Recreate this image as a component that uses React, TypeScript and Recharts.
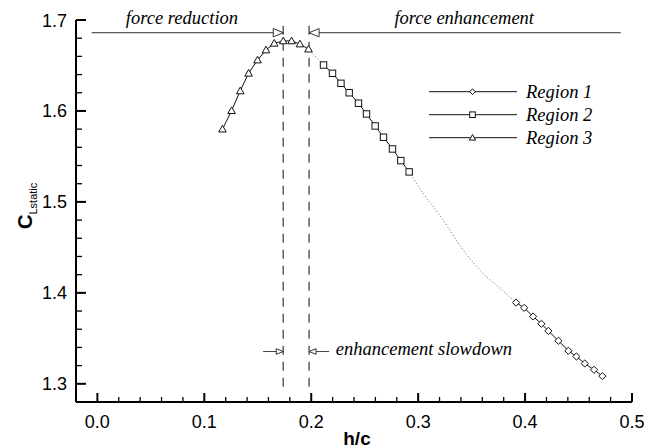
import React from 'react';
import {
  ComposedChart,
  Scatter,
  XAxis,
  YAxis,
  ReferenceLine,
  ReferenceDot,
  Legend,
} from 'recharts';

// ---------------- data ----------------
const region3X = [0.117, 0.1255, 0.1336, 0.1414, 0.1498, 0.1577, 0.1654, 0.1738, 0.1816, 0.1894, 0.1975];
const region3Y = [1.58, 1.6003, 1.622, 1.6414, 1.656, 1.667, 1.6744, 1.677, 1.677, 1.6736, 1.668];

const region2X = [0.2115, 0.2199, 0.2278, 0.2355, 0.2442, 0.2517, 0.2598, 0.2676, 0.276, 0.2838, 0.2916];
const region2Y = [1.6505, 1.6414, 1.6304, 1.62, 1.6085, 1.5967, 1.5835, 1.5711, 1.5582, 1.5454, 1.533];

const region1X = [0.3916, 0.3991, 0.4075, 0.4153, 0.4218, 0.4312, 0.4405, 0.448, 0.4558, 0.4645, 0.4723];
const region1Y = [1.3893, 1.3835, 1.374, 1.366, 1.3582, 1.3473, 1.3363, 1.33, 1.3223, 1.3154, 1.3085];

// dotted fitted curve in the gaps between the regions
const gap32X = [0.1975, 0.2115];
const gap32Y = [1.668, 1.6505];
const gap21X = [0.2916, 0.3046, 0.3233, 0.342, 0.3638, 0.3763, 0.3916];
const gap21Y = [1.533, 1.5096, 1.4802, 1.4473, 1.4179, 1.4052, 1.3893];

const seriesNames = ['Region 1', 'Region 2', 'Region 3'];

const xDomain = [-0.02, 0.5];
const yDomain = [1.28, 1.7];
const xTicks = [-0.02, 0, 0.02, 0.04, 0.06, 0.08, 0.1, 0.12, 0.14, 0.16, 0.18, 0.2, 0.22, 0.24, 0.26, 0.28, 0.3, 0.32, 0.34, 0.36, 0.38, 0.4, 0.42, 0.44, 0.46, 0.48, 0.5];
const xMajorTicks = [0, 0.1, 0.2, 0.3, 0.4, 0.5];
const xMajorLabels = ['0.0', '0.1', '0.2', '0.3', '0.4', '0.5'];
const yTicks = [1.28, 1.3, 1.32, 1.34, 1.36, 1.38, 1.4, 1.42, 1.44, 1.46, 1.48, 1.5, 1.52, 1.54, 1.56, 1.58, 1.6, 1.62, 1.64, 1.66, 1.68, 1.7];
const yMajorTicks = [1.3, 1.4, 1.5, 1.6, 1.7];
const yMajorLabels = ['1.3', '1.4', '1.5', '1.6', '1.7'];

// annotation anchors (data coordinates)
const boundaryX = [0.1738, 0.198];
const annotations = {
  reductionText: { x: 0.0791, y: 1.6958, text: 'force reduction' },
  enhancementText: { x: 0.3431, y: 1.6958, text: 'force enhancement' },
  slowdownText: { x: 0.223, y: 1.3315, text: 'enhancement slowdown' },
  arrowY: 1.686,
  reductionStart: -0.0053,
  enhancementStart: 0.4895,
  slowY: 1.3355,
  slowLeftStart: 0.155,
  slowRightStart: 0.2168,
  dashBottom: 1.2967,
};

const zip = (xs: number[], ys: number[]) => xs.map((x, i) => ({ x, y: ys[i] }));
const region1 = zip(region1X, region1Y);
const region2 = zip(region2X, region2Y);
const region3 = zip(region3X, region3Y);
const gap32 = zip(gap32X, gap32Y);
const gap21 = zip(gap21X, gap21Y);

// ---------------- styling ----------------
const SANS = '"Liberation Sans", Arial, Helvetica, sans-serif';
const SERIF = '"Liberation Serif", "Times New Roman", Times, serif';
const INK = '#000';

const majorIndex = (v: number, majors: number[]) => majors.findIndex((m) => Math.abs(m - v) < 1e-9);

const XTickLabel = (props: any) => {
  const { x, y, payload } = props;
  const idx = majorIndex(payload.value, xMajorTicks);
  if (idx < 0) return <g />;
  return (
    <text x={Number(x)} y={Number(y) + 26} textAnchor="middle" fontFamily={SANS} fontSize={18} fill={INK}>
      {xMajorLabels[idx]}
    </text>
  );
};

const YTickLabel = (props: any) => {
  const { x, y, payload } = props;
  const idx = majorIndex(payload.value, yMajorTicks);
  if (idx < 0) return <g />;
  return (
    <text x={Number(x) - 9} y={Number(y) + 6.5} textAnchor="end" fontFamily={SANS} fontSize={18} fill={INK}>
      {yMajorLabels[idx]}
    </text>
  );
};

// inward tick marks, positioned through the chart scales
const XTickMark = ({ cx, cy, major }: any) => (
  <path d={`M${cx},${cy}L${cx},${cy - (major ? 9 : 5)}`} stroke={INK} strokeWidth={major ? 2 : 1.3} fill="none" />
);
const YTickMark = ({ cx, cy, major }: any) => (
  <path d={`M${cx},${cy}L${cx + (major ? 10 : 6)},${cy}`} stroke={INK} strokeWidth={major ? 2 : 1.3} fill="none" />
);

const Diamond = ({ cx, cy, s = 3.6 }: any) => (
  <path d={`M${cx},${cy - s}L${cx + s},${cy}L${cx},${cy + s}L${cx - s},${cy}Z`} fill="#fff" stroke="#111" strokeWidth={1} />
);
const Square = ({ cx, cy, s = 3.2 }: any) => (
  <rect x={cx - s} y={cy - s} width={2 * s} height={2 * s} fill="#fff" stroke="#111" strokeWidth={1} />
);
const Triangle = ({ cx, cy, s = 3.8 }: any) => (
  <path d={`M${cx},${cy - s}L${cx + s},${cy + s * 0.75}L${cx - s},${cy + s * 0.75}Z`} fill="#fff" stroke="#111" strokeWidth={1} />
);

const markerFor = [Diamond, Square, Triangle];

const LegendBox = () => (
  <svg width={200} height={72} style={{ display: 'block', overflow: 'visible' }}>
    {seriesNames.map((name, i) => {
      const y = 11.7 + i * 23;
      const M = markerFor[i];
      return (
        <g key={name}>
          <line x1={0} x2={88} y1={y} y2={y} stroke="#111" strokeWidth={1} />
          <M cx={43.5} cy={y} s={i === 2 ? 3.2 : 2.8} />
          <text x={97} y={y + 5.8} fontFamily={SERIF} fontStyle="italic" fontSize={18.5} fill={INK}>
            {name}
          </text>
        </g>
      );
    })}
  </svg>
);

const ArrowHead = ({ cx, cy, dir, len, half }: any) => {
  const bx = cx - dir * len;
  return <path d={`M${cx},${cy}L${bx},${cy - half}L${bx},${cy + half}Z`} fill="#fff" stroke="#333" strokeWidth={1} />;
};

const AnnoText = ({ cx, cy, text, anchor }: any) => (
  <text x={cx} y={cy} textAnchor={anchor} fontFamily={SERIF} fontStyle="italic" fontSize={18.5} fill={INK}>
    {text}
  </text>
);

const YLabel = () => (
  <g transform="translate(23.5, 221) rotate(-90)">
    <text x={0} y={0} fontFamily={SANS} fill={INK}>
      <tspan fontSize={20} fontWeight="bold">C</tspan>
      <tspan fontSize={11} dy={5}>Lstatic</tspan>
    </text>
  </g>
);

const XLabel = (props: any) => {
  const vb = props.viewBox || { x: 68, y: 394, width: 556 };
  return (
    <text x={vb.x + vb.width / 2 + 3} y={vb.y + 43} textAnchor="middle" fontFamily={SANS} fontWeight="bold" fontSize={19} fill={INK}>
      h/c
    </text>
  );
};

export default function App() {
  const a = annotations;
  return (
    <div style={{ position: 'absolute', left: 8, top: 8, width: 638, height: 440 }}>
      <ComposedChart width={638} height={440} margin={{ top: 12, right: 14, bottom: 0, left: 0 }}>
        <XAxis
          type="number"
          dataKey="x"
          domain={xDomain}
          ticks={xTicks}
          interval={0}
          tickSize={0}
          tickMargin={0}
          tickLine={false}
          tick={<XTickLabel />}
          axisLine={{ stroke: INK, strokeWidth: 2 }}
          height={46}
          label={<XLabel />}
          allowDataOverflow
        />
        <YAxis
          type="number"
          dataKey="y"
          domain={yDomain}
          ticks={yTicks}
          interval={0}
          tickSize={0}
          tickMargin={0}
          tickLine={false}
          tick={<YTickLabel />}
          axisLine={{ stroke: INK, strokeWidth: 2 }}
          width={68}
          label={<YLabel />}
          allowDataOverflow
        />

        {xTicks.map((v) => (
          <ReferenceDot
            key={`xt${v}`}
            x={v}
            y={yDomain[0]}
            ifOverflow="visible"
            shape={(p: any) => <XTickMark cx={p.cx} cy={p.cy} major={majorIndex(v, xMajorTicks) >= 0} />}
          />
        ))}
        {yTicks.map((v) => (
          <ReferenceDot
            key={`yt${v}`}
            x={xDomain[0]}
            y={v}
            ifOverflow="visible"
            shape={(p: any) => <YTickMark cx={p.cx} cy={p.cy} major={majorIndex(v, yMajorTicks) >= 0} />}
          />
        ))}

        {boundaryX.map((bx) => (
          <ReferenceLine
            key={bx}
            segment={[{ x: bx, y: a.dashBottom }, { x: bx, y: 1.7 }]}
            stroke="#555"
            strokeWidth={1.4}
            strokeDasharray="9 7"
            ifOverflow="visible"
          />
        ))}
        <ReferenceLine segment={[{ x: a.reductionStart, y: a.arrowY }, { x: boundaryX[0], y: a.arrowY }]} stroke="#333" strokeWidth={1} ifOverflow="visible" />
        <ReferenceLine segment={[{ x: a.enhancementStart, y: a.arrowY }, { x: boundaryX[1], y: a.arrowY }]} stroke="#333" strokeWidth={1} ifOverflow="visible" />
        <ReferenceLine segment={[{ x: a.slowLeftStart, y: a.slowY }, { x: boundaryX[0], y: a.slowY }]} stroke="#444" strokeWidth={1} ifOverflow="visible" />
        <ReferenceLine segment={[{ x: a.slowRightStart, y: a.slowY }, { x: boundaryX[1], y: a.slowY }]} stroke="#444" strokeWidth={1} ifOverflow="visible" />

        <ReferenceDot x={boundaryX[0]} y={a.arrowY} ifOverflow="visible" shape={(p: any) => <ArrowHead cx={p.cx} cy={p.cy} dir={1} len={10} half={4.2} />} />
        <ReferenceDot x={boundaryX[1]} y={a.arrowY} ifOverflow="visible" shape={(p: any) => <ArrowHead cx={p.cx} cy={p.cy} dir={-1} len={10} half={4.2} />} />
        <ReferenceDot x={boundaryX[0]} y={a.slowY} ifOverflow="visible" shape={(p: any) => <ArrowHead cx={p.cx} cy={p.cy} dir={1} len={7} half={2.8} />} />
        <ReferenceDot x={boundaryX[1]} y={a.slowY} ifOverflow="visible" shape={(p: any) => <ArrowHead cx={p.cx} cy={p.cy} dir={-1} len={7} half={2.8} />} />

        <ReferenceDot x={a.reductionText.x} y={a.reductionText.y} ifOverflow="visible" shape={(p: any) => <AnnoText cx={p.cx} cy={p.cy} text={a.reductionText.text} anchor="middle" />} />
        <ReferenceDot x={a.enhancementText.x} y={a.enhancementText.y} ifOverflow="visible" shape={(p: any) => <AnnoText cx={p.cx} cy={p.cy} text={a.enhancementText.text} anchor="middle" />} />
        <ReferenceDot x={a.slowdownText.x} y={a.slowdownText.y} ifOverflow="visible" shape={(p: any) => <AnnoText cx={p.cx} cy={p.cy} text={a.slowdownText.text} anchor="start" />} />

        <Scatter name="fit-a" data={gap32} isAnimationActive={false} line={{ stroke: '#666', strokeWidth: 1, strokeDasharray: '1 2.2' }} lineJointType="monotoneX" shape={() => <g />} legendType="none" />
        <Scatter name="fit-b" data={gap21} isAnimationActive={false} line={{ stroke: '#666', strokeWidth: 1, strokeDasharray: '1 2.2' }} lineJointType="monotoneX" shape={() => <g />} legendType="none" />

        <Scatter name={seriesNames[2]} data={region3} isAnimationActive={false} line={{ stroke: '#111', strokeWidth: 1 }} shape={(p: any) => <Triangle cx={p.cx} cy={p.cy} />} />
        <Scatter name={seriesNames[1]} data={region2} isAnimationActive={false} line={{ stroke: '#111', strokeWidth: 1 }} shape={(p: any) => <Square cx={p.cx} cy={p.cy} />} />
        <Scatter name={seriesNames[0]} data={region1} isAnimationActive={false} line={{ stroke: '#111', strokeWidth: 1 }} shape={(p: any) => <Diamond cx={p.cx} cy={p.cy} />} />

        <Legend
          layout="vertical"
          align="center"
          verticalAlign="middle"
          wrapperStyle={{ left: 421, top: 72, width: 200, height: 72 }}
          content={() => <LegendBox />}
        />
      </ComposedChart>
    </div>
  );
}
